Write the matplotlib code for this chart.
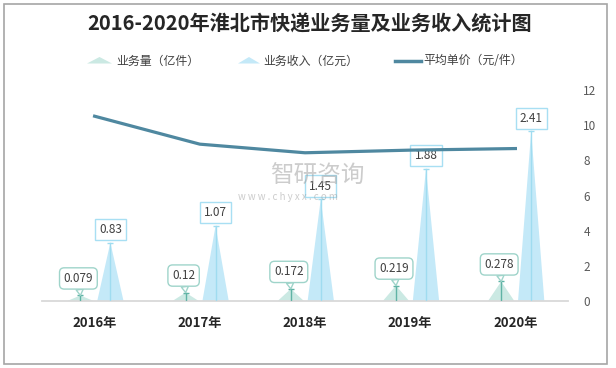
import matplotlib.pyplot as plt
from matplotlib.patches import Polygon, Rectangle
from matplotlib.lines import Line2D

plt.rcParams['font.family'] = ['Noto Sans CJK SC', 'DejaVu Sans']

# 数据
years = ['2016年', '2017年', '2018年', '2019年', '2020年']
volume = [0.079, 0.12, 0.172, 0.219, 0.278]      # 业务量（亿件）
revenue = [0.83, 1.07, 1.45, 1.88, 2.41]         # 业务收入（亿元）
unit_price = [10.51, 8.92, 8.43, 8.58, 8.67]     # 平均单价（元/件）

W, H = 616, 368
vol_color = '#cbe9e3'
rev_color = '#c4e9f8'
line_color = '#4f88a0'
text_color = '#404040'


def fx(px):
    return px / W


def fy(py):
    return 1 - py / H


fig = plt.figure(figsize=(W / 100, H / 100), dpi=100)

# 外框
fig.add_artist(Rectangle((fx(4), fy(364)), fx(603), 360 / H, transform=fig.transFigure,
                         fill=False, edgecolor='#a6a6a6', linewidth=1.2))

fig.text(fx(310), fy(24), '2016-2020年淮北市快递业务量及业务收入统计图',
         ha='center', va='center', fontsize=14.5, fontweight='bold', color='#262626')

# 图例（手工绘制）
fig.add_artist(Polygon([(fx(87), fy(63.5)), (fx(99.5), fy(57)), (fx(112), fy(63.5))],
                       closed=True, transform=fig.transFigure, facecolor=vol_color, edgecolor='none'))
fig.text(fx(116), fy(61), '业务量（亿件）', ha='left', va='center', fontsize=8.6, color=text_color)
fig.add_artist(Polygon([(fx(238), fy(63.5)), (fx(249), fy(57)), (fx(260), fy(63.5))],
                       closed=True, transform=fig.transFigure, facecolor=rev_color, edgecolor='none'))
fig.text(fx(263), fy(61), '业务收入（亿元）', ha='left', va='center', fontsize=8.6, color=text_color)
fig.add_artist(Line2D([fx(395), fx(421)], [fy(61), fy(61)], transform=fig.transFigure,
                      color=line_color, linewidth=2.5))
fig.text(fx(423), fy(61), '平均单价（元/件）', ha='left', va='center', fontsize=8.6, color=text_color)

ax = fig.add_axes([fx(42), fy(301), fx(526), 211 / H])
ax.set_xlim(-0.5, 4.5)
ax.set_ylim(0, 3)

hw = 0.125
vol_off = -0.135
rev_off = 0.15

for i in range(len(years)):
    # 业务量三角形
    xv = i + vol_off
    ax.add_patch(Polygon([(xv - hw, 0), (xv, volume[i]), (xv + hw, 0)], closed=True,
                         facecolor=vol_color, edgecolor='none', zorder=2))
    ax.plot([xv, xv], [0, volume[i]], color='#5fb3a5', linewidth=1, zorder=3)
    ax.plot([xv], [volume[i]], marker='_', markersize=5, color='#5fb3a5', zorder=3)
    ax.annotate(str(volume[i]), xy=(xv, volume[i]), xytext=(-2, 17), textcoords='offset pixels',
                ha='center', va='center', fontsize=8.5, color=text_color, zorder=5,
                bbox=dict(boxstyle='round,pad=0.35,rounding_size=0.4', fc='white', ec='#9fd4ca', lw=1),
                arrowprops=dict(arrowstyle='wedge,tail_width=0.6', fc='white', ec='#9fd4ca',
                                lw=1, shrinkA=0, shrinkB=0))

    # 业务收入三角形
    xr = i + rev_off
    ax.add_patch(Polygon([(xr - hw, 0), (xr, revenue[i]), (xr + hw, 0)], closed=True,
                         facecolor=rev_color, edgecolor='none', zorder=2))
    ax.plot([xr, xr], [0, revenue[i]], color='#9fdcf0', linewidth=1, zorder=3)
    ax.plot([xr], [revenue[i]], marker='_', markersize=5, color='#9fdcf0', zorder=3)
    ax.annotate(str(revenue[i]), xy=(xr, revenue[i]), xytext=(0, 13), textcoords='offset pixels',
                ha='center', va='center', fontsize=8.5, color=text_color, zorder=5,
                bbox=dict(boxstyle='square,pad=0.35', fc='white', ec='#a8dff3', lw=1))

ax.set_xticks(range(len(years)))
ax.set_xticklabels(years, fontsize=9.5, fontweight='bold', color='#262626')
ax.tick_params(axis='x', length=0, pad=11)
ax.set_yticks([])
for s in ['top', 'left', 'right']:
    ax.spines[s].set_visible(False)
ax.spines['bottom'].set_color('#d9d9d9')
ax.spines['bottom'].set_linewidth(1.3)

# 平均单价折线（右轴）
ax2 = ax.twinx()
ax2.plot(range(len(years)), unit_price, color=line_color, linewidth=2.3, zorder=4)
ax2.set_ylim(0, 12)
ax2.set_yticks(range(0, 13, 2))
ax2.tick_params(axis='y', length=0, pad=11, labelsize=8.5, labelcolor='#595959')
for s in ax2.spines.values():
    s.set_visible(False)

# 水印
fig.text(fx(270), fy(176), '智研咨询', ha='left', va='center', fontsize=17,
         color='#9a9a9a', alpha=0.5, zorder=10)
fig.text(fx(238), fy(197), 'w w w . c h y x x . c o m', ha='left', va='center', fontsize=7,
         color='#9a9a9a', alpha=0.5, zorder=10)

fig.savefig('out.png', dpi=100)
